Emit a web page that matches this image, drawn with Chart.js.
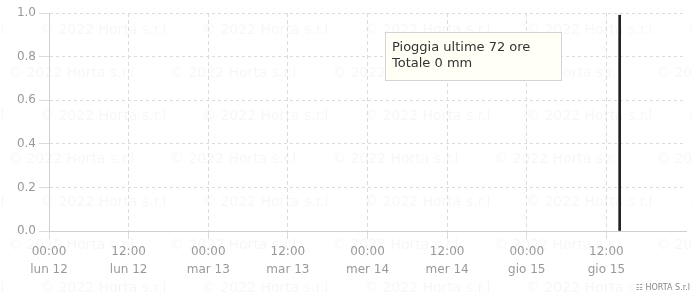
<!DOCTYPE html>
<html>
<head>
<meta charset="utf-8">
<script src="https://cdn.jsdelivr.net/npm/chart.js@4"></script>
<style>
  html, body { margin: 0; padding: 0; background: #fff; }
  #wrap { width: 692px; height: 293px; position: relative; }
</style>
</head>
<body>
<div id="wrap"><canvas id="rainChart"></canvas></div>
<script>
// x axis in hours from 00:00 lun 12
var tickLabels = [
    ['00:00', 'lun 12'], ['12:00', 'lun 12'], ['00:00', 'mar 13'], ['12:00', 'mar 13'],
    ['00:00', 'mer 14'], ['12:00', 'mer 14'], ['00:00', 'gio 15'], ['12:00', 'gio 15']
];
var yTicks = [0, 0.2, 0.4, 0.6, 0.8, 1.0];

// hourly rain (mm) for the last 72 hours
var rainHours = [14,15,16,17,18,19,20,21,22,23,24,25,26,27,28,29,30,31,32,33,34,35,36,37,
                 38,39,40,41,42,43,44,45,46,47,48,49,50,51,52,53,54,55,56,57,58,59,60,61,
                 62,63,64,65,66,67,68,69,70,71,72,73,74,75,76,77,78,79,80,81,82,83,84,85];
var rainValues = [0,0,0,0,0,0,0,0,0,0,0,0,0,0,0,0,0,0,0,0,0,0,0,0,
                  0,0,0,0,0,0,0,0,0,0,0,0,0,0,0,0,0,0,0,0,0,0,0,0,
                  0,0,0,0,0,0,0,0,0,0,0,0,0,0,0,0,0,0,0,0,0,0,0,0];

// current time marker
var nowHour = [86];
var nowValue = [0.99];

var boxTitle = 'Pioggia ultime 72 ore';

var totalRain = rainValues.reduce((a, b) => a + b, 0);

// faint copyright pattern behind the chart
const watermark = {
    id: 'watermark',
    beforeDraw(chart) {
        const ctx = chart.ctx;
        ctx.save();
        ctx.font = '14px "DejaVu Sans"';
        ctx.fillStyle = 'rgba(0,0,0,0.035)';
        ctx.textBaseline = 'middle';
        for (let r = 0; r < 7; r++) {
            const y = 30 + r * 43;
            const off = r % 2 == 0 ? 40 : 8;
            for (let c = -1; c < 5; c++) {
                ctx.fillText('\u00a9 2022 Horta s.r.l', off + c * 162, y);
            }
        }
        ctx.restore();
    },
    afterDraw(chart) {
        const ctx = chart.ctx;
        ctx.save();
        // info box
        const bx = 385.5, by = 32.5, bw = 176, bh = 48;
        ctx.fillStyle = '#fffff6';
        ctx.strokeStyle = '#d4d4d4';
        ctx.lineWidth = 1;
        ctx.fillRect(bx, by, bw, bh);
        ctx.strokeRect(bx, by, bw, bh);
        ctx.fillStyle = '#333';
        ctx.font = '13px "DejaVu Sans"';
        ctx.textBaseline = 'middle';
        ctx.fillText(boxTitle, 392, 48);
        ctx.fillText('Totale ' + totalRain + ' mm', 392, 64);
        // logo
        ctx.font = '8px "DejaVu Sans"';
        ctx.fillStyle = '#888';
        ctx.textAlign = 'right';
        ctx.fillText('\u2637 HORTA S.r.l', 690, 288);
        ctx.restore();
    }
};

document.addEventListener('DOMContentLoaded', function () {
    var ctx = document.getElementById('rainChart').getContext('2d');
    new Chart(ctx, {
        type: 'bar',
        data: {
            datasets: [
                {
                    label: 'Pioggia',
                    data: rainHours.map((h, i) => ({ x: h, y: rainValues[i] })),
                    backgroundColor: 'rgba(62,127,196,0)',
                    barThickness: 5
                },
                {
                    label: 'Ora',
                    data: nowHour.map((h, i) => ({ x: h, y: nowValue[i] })),
                    backgroundColor: '#222',
                    barThickness: 2,
                    grouped: false
                }
            ]
        },
        options: {
            responsive: true,
            maintainAspectRatio: false,
            animation: false,
            layout: { padding: { top: 13, right: 6 } },
            plugins: {
                legend: { display: false },
                tooltip: { enabled: false }
            },
            scales: {
                x: {
                    type: 'linear',
                    min: 0,
                    max: 96,
                    offset: false,
                    afterFit: s => { s.height = 62 },
                    afterBuildTicks: s => { s.ticks = tickLabels.map((l, i) => ({ value: i * 12 })) },
                    grid: { color: '#dcdcdc', tickLength: 8, offset: false },
                    border: { color: '#d0d0d0', dash: [4, 3] },
                    ticks: {
                        maxRotation: 0,
                        autoSkip: false,
                        padding: 4,
                        color: '#999',
                        font: { family: 'DejaVu Sans', size: 12, lineHeight: 1.5 },
                        callback: (v) => tickLabels[v / 12] || ''
                    }
                },
                y: {
                    min: 0,
                    max: 1,
                    afterFit: s => { s.width = 49 },
                    afterBuildTicks: s => { s.ticks = yTicks.map(v => ({ value: v })) },
                    grid: { color: '#dcdcdc', tickLength: 10 },
                    border: { color: '#d0d0d0', dash: [3, 3] },
                    ticks: {
                        padding: 3,
                        color: '#999',
                        font: { family: 'DejaVu Sans', size: 12 },
                        callback: v => v.toFixed(1)
                    }
                }
            }
        },
        plugins: [watermark]
    });
});
</script>
</body>
</html>
